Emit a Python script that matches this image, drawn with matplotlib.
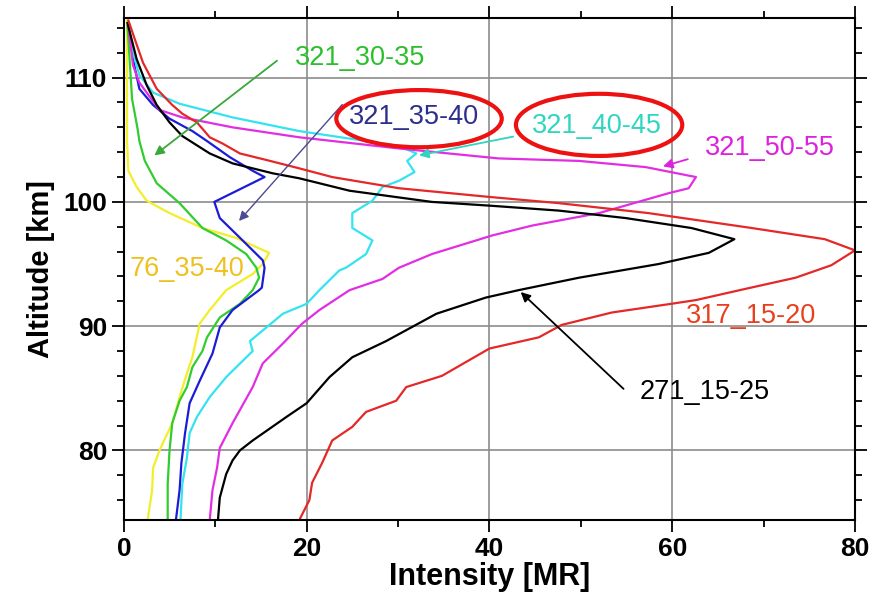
import matplotlib
matplotlib.use("Agg")
import matplotlib.pyplot as plt
from matplotlib.patches import Ellipse

plt.rcParams['font.family'] = ['Liberation Sans', 'DejaVu Sans']

# Intensity profiles [MR] versus altitude [km]
alt_317_15_20 = [74.4, 76.0, 77.4, 79.0, 80.8, 81.9, 83.1, 84.0, 85.1, 86.0, 88.2, 89.1, 90.1, 91.1,
                 91.8, 92.1, 93.0, 93.9, 94.9, 96.1, 97.0, 97.9, 99.1, 99.9, 100.4, 101.1, 102.0,
                 102.7, 103.3, 103.9, 104.7, 105.2, 106.4, 107.1, 107.8, 109.1, 111.2, 113.1, 114.6]
int_317_15_20 = [19.2, 20.3, 20.6, 21.7, 22.8, 25.0, 26.5, 29.8, 30.9, 34.8, 40.0, 45.4, 47.9, 53.4,
                 59.9, 62.6, 68.0, 73.5, 77.4, 80.0, 76.7, 68.7, 57.4, 47.6, 40.0, 30.1, 22.8,
                 19.2, 16.0, 12.7, 10.8, 9.4, 8.0, 6.4, 5.3, 3.6, 2.1, 1.2, 0.5]

alt_271_15_25 = [74.4, 76.2, 78.1, 79.2, 80.0, 80.8, 82.7, 83.8, 85.9, 87.5, 88.8, 91.0, 92.3, 92.9,
                 93.9, 95.0, 95.9, 97.0, 97.9, 98.7, 99.3, 99.7, 100.0, 100.9, 101.9, 102.3, 103.1,
                 103.9, 105.3, 106.4, 107.8, 109.4, 111.5, 114.4]
int_271_15_25 = [10.3, 10.5, 11.2, 11.9, 12.7, 14.1, 17.8, 20.0, 22.5, 25.0, 28.7, 34.2, 39.6, 43.2,
                 49.8, 58.5, 64.0, 66.8, 62.1, 54.9, 47.6, 40.0, 33.7, 24.7, 19.2, 16.3, 11.9,
                 9.4, 6.4, 5.0, 3.6, 2.5, 1.4, 0.4]

alt_321_50_55 = [74.4, 76.8, 78.6, 80.2, 82.2, 85.1, 87.0, 88.6, 90.2, 91.3, 92.9, 93.8, 94.7, 95.8,
                 97.3, 98.1, 99.1, 100.7, 101.1, 102.0, 102.8, 103.3, 103.5, 104.3, 105.2, 106.0,
                 106.8, 107.4, 109.6, 111.0, 114.2]
int_321_50_55 = [9.4, 9.7, 10.2, 10.5, 11.9, 14.1, 15.2, 17.4, 19.5, 21.4, 24.7, 28.3, 30.1, 33.7,
                 40.3, 44.7, 52.0, 59.6, 61.8, 62.6, 57.1, 49.8, 41.0, 30.1, 19.2, 11.9,
                 6.4, 3.9, 1.7, 1.0, 0.5]

alt_321_40_45 = [74.4, 77.3, 79.4, 81.4, 82.7, 84.3, 85.9, 88.0, 88.8, 89.9, 91.0, 91.8, 92.9, 94.5,
                 94.7, 95.8, 96.9, 97.9, 99.1, 100.1, 101.2, 101.7, 102.4, 103.3, 103.9, 104.5,
                 105.7, 106.8, 107.9, 108.8, 110.2, 112.3, 114.4]
int_321_40_45 = [6.2, 6.4, 6.9, 7.2, 8.0, 9.4, 11.2, 14.1, 13.8, 15.6, 17.4, 20.0, 21.4, 23.6,
                 24.3, 26.5, 27.2, 25.0, 25.0, 27.2, 28.3, 30.1, 31.8, 31.0, 32.0, 30.1,
                 19.2, 11.9, 6.1, 3.2, 1.7, 0.9, 0.5]

alt_321_35_40 = [74.4, 76.8, 79.0, 81.4, 83.8, 85.6, 87.8, 89.9, 91.3, 92.9, 93.1, 94.7, 95.3, 96.9,
                 98.7, 100.0, 102.0, 102.5, 103.6, 104.9, 105.7, 106.7, 107.8, 109.1, 111.5, 114.4]
int_321_35_40 = [5.7, 6.1, 6.3, 6.7, 7.2, 8.3, 9.7, 10.5, 11.9, 14.8, 15.1, 15.4, 15.2, 13.0,
                 10.5, 9.9, 15.4, 14.1, 11.6, 9.1, 7.5, 5.0, 3.2, 1.7, 1.0, 0.5]

alt_321_30_35 = [74.4, 77.3, 80.0, 82.2, 84.0, 85.1, 86.7, 88.0, 89.1, 90.7, 91.8, 92.9, 93.9, 94.7,
                 95.8, 96.9, 97.9, 99.9, 101.5, 103.3, 104.9, 105.9, 108.3, 114.2]
int_321_30_35 = [4.8, 4.8, 5.0, 5.3, 6.1, 6.9, 7.5, 8.6, 9.1, 10.5, 12.7, 14.1, 14.8, 14.5,
                 13.4, 11.2, 8.6, 6.1, 3.6, 2.3, 1.7, 1.5, 0.9, 0.4]

alt_76_35_40 = [74.4, 76.8, 78.6, 80.0, 82.2, 84.3, 86.2, 87.5, 90.2, 91.3, 92.9, 94.2, 95.0, 95.9,
                97.1, 97.9, 99.1, 100.1, 101.2, 102.5, 104.9, 108.2, 114.6]
int_76_35_40 = [2.6, 3.1, 3.2, 3.9, 5.3, 6.1, 6.9, 7.5, 8.3, 9.4, 11.2, 14.1, 15.2, 15.9,
                12.3, 8.6, 5.0, 2.5, 1.4, 0.5, 0.35, 0.35, 0.35]

x_ticks = [0, 20, 40, 60, 80]
y_ticks = [80, 90, 100, 110]

fig = plt.figure(figsize=(8.72, 6.0), dpi=100)
ax = fig.add_axes([0.142, 0.1333, 0.8385, 0.8367])

lw = 1.6
ax.plot(int_76_35_40, alt_76_35_40, color='#f2ee2a', lw=lw, zorder=3)
ax.plot(int_321_30_35, alt_321_30_35, color='#30cc30', lw=lw, zorder=3)
ax.plot(int_321_35_40, alt_321_35_40, color='#1c1cd8', lw=lw, zorder=3)
ax.plot(int_321_40_45, alt_321_40_45, color='#33e4f0', lw=lw, zorder=3)
ax.plot(int_321_50_55, alt_321_50_55, color='#e22ee2', lw=lw, zorder=3)
ax.plot(int_271_15_25, alt_271_15_25, color='black', lw=lw, zorder=3)
ax.plot(int_317_15_20, alt_317_15_20, color='#e42828', lw=lw, zorder=3)

ax.set_xlim(0, 80)
ax.set_ylim(74.4, 114.8)
ax.set_xticks(x_ticks)
ax.set_yticks(y_ticks)
ax.set_xticks(range(10, 80, 20), minor=True)
ax.set_yticks([y for y in range(76, 115, 2) if y % 10 != 0], minor=True)
ax.grid(True, which='major', color='#8c8c8c', lw=1.2, zorder=1)
ax.tick_params(which='both', direction='out', top=True, right=True, width=1.3, color='black')
ax.tick_params(which='major', length=8.5, labelsize=19)
ax.tick_params(which='minor', length=5)
for lab in ax.get_xticklabels() + ax.get_yticklabels():
    lab.set_fontweight('bold')
for sp in ax.spines.values():
    sp.set_linewidth(1.5)
    sp.set_zorder(5)

ax.set_xlabel('Intensity [MR]', fontsize=22, fontweight='bold', labelpad=1)
ax.set_ylabel('Altitude [km]', fontsize=21, fontweight='bold', labelpad=6)

fs = 19.5
arrow_kw = dict(arrowstyle='-|>', lw=1.3, mutation_scale=14)

ax.text(25.9, 111.6, '321_30-35', color='#2cbf2c', fontsize=fs, ha='center', va='center', zorder=6)
ax.annotate('', xy=(3.1, 103.6), xytext=(17.0, 111.5),
            arrowprops=dict(arrow_kw, color='#3aa83a'), zorder=6)

ax.text(31.7, 106.8, '321_35-40', color='#2e2e8c', fontsize=fs, ha='center', va='center', zorder=6)
ax.annotate('', xy=(12.4, 98.3), xytext=(24.1, 108.0),
            arrowprops=dict(arrow_kw, color='#4a4a96', lw=1.0), zorder=6)

ax.text(51.7, 106.1, '321_40-45', color='#2ed6c2', fontsize=fs, ha='center', va='center', zorder=6)
ax.annotate('', xy=(32.0, 103.7), xytext=(42.9, 105.3),
            arrowprops=dict(arrow_kw, color='#2ed6c2'), zorder=6)

ax.text(70.7, 104.3, '321_50-55', color='#dd22dd', fontsize=fs, ha='center', va='center', zorder=6)
ax.annotate('', xy=(58.7, 102.8), xytext=(62.0, 103.5),
            arrowprops=dict(arrow_kw, color='#dd22dd'), zorder=6)

ax.text(68.6, 90.8, '317_15-20', color='#e8401e', fontsize=fs, ha='center', va='center', zorder=6)

ax.text(63.6, 84.7, '271_15-25', color='black', fontsize=fs, ha='center', va='center', zorder=6)
ax.annotate('', xy=(43.2, 92.9), xytext=(54.9, 84.8),
            arrowprops=dict(arrow_kw, color='black'), zorder=6)

ax.text(6.9, 94.6, '76_35-40', color='#f0c020', fontsize=fs, ha='center', va='center', zorder=6)

# Highlight rings around two labels
ax.add_patch(Ellipse((32.3, 106.7), 18.1, 4.6, fill=False, edgecolor='#ee1111', lw=3, zorder=7))
ax.add_patch(Ellipse((52.0, 106.2), 18.2, 5.0, fill=False, edgecolor='#ee1111', lw=3, zorder=7))

fig.savefig('out.png', dpi=100)
